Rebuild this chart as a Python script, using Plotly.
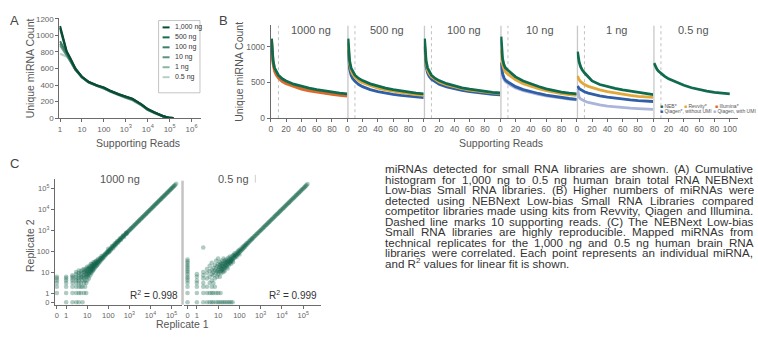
import numpy as np
import plotly.graph_objects as go

W, H = 758, 337
FONT = "Liberation Sans, Arial, sans-serif"

# ---------------- Panel A data ----------------
a_reads = [1, 2, 3, 5, 10, 20, 50, 100, 200, 500, 1000, 2000, 5000, 10000, 20000, 50000, 100000, 150000]
a_names = ["1,000 ng", "500 ng", "100 ng", "10 ng", "1 ng", "0.5 ng"]
a_1000 = [1115, 810, 720, 600, 500, 440, 395, 370, 330, 285, 262, 235, 170, 110, 70, 25, 3, 0]
a_500 = [1090, 800, 712, 596, 498, 438, 393, 368, 328, 283, 258, 232, 168, 108, 68, 24, 3, 0]
a_100 = [930, 780, 700, 590, 495, 436, 391, 365, 325, 280, 255, 228, 165, 105, 66, 23, 2, 0]
a_10 = [900, 770, 695, 588, 494, 435, 390, 363, 322, 277, 250, 224, 162, 103, 64, 22, 2, 0]
a_1 = [880, 765, 690, 585, 493, 434, 389, 362, 320, 274, 247, 220, 160, 101, 62, 21, 2, 0]
a_05 = [780, 745, 700, 605, 495, 432, 388, 360, 318, 270, 243, 216, 157, 99, 60, 20, 2, 0]
a_colors = ["#0a4a36", "#1b6b50", "#3d7f69", "#5e927f", "#8db3a5", "#b9cfc6"]

# ---------------- Panel B data ----------------
b_reads = [1, 2, 3, 5, 7, 10, 15, 20, 30, 40, 50, 60, 70, 80, 90, 100]
b_panels = ["1000 ng", "500 ng", "100 ng", "10 ng", "1 ng", "0.5 ng"]
b_kits = ["NEB*", "Revvity*", "Illumina*", "Qiagen*, without UMI", "Qiagen, with UMI"]
b_colors = {"NEB*": "#0f6b4e", "Revvity*": "#e3a83a", "Illumina*": "#dc6a2c",
            "Qiagen*, without UMI": "#2f5fa6", "Qiagen, with UMI": "#aab5da"}

b1000_neb = [1110, 900, 800, 700, 650, 600, 550, 520, 475, 445, 420, 398, 380, 365, 350, 340]
b1000_revvity = [1095, 880, 780, 675, 625, 580, 530, 500, 455, 425, 400, 380, 363, 348, 335, 325]
b1000_illumina = [1080, 860, 760, 655, 605, 560, 510, 480, 437, 405, 382, 362, 346, 332, 320, 310]

b500_neb = [1110, 900, 800, 700, 650, 600, 555, 525, 480, 447, 420, 398, 380, 364, 350, 340]
b500_revvity = [1050, 860, 760, 665, 615, 570, 525, 495, 452, 420, 395, 375, 358, 343, 330, 320]
b500_qiagen = [960, 780, 690, 600, 555, 515, 470, 440, 400, 372, 350, 332, 318, 306, 296, 288]

b100_neb = [1110, 900, 800, 700, 650, 600, 555, 525, 482, 450, 425, 405, 388, 374, 362, 352]
b100_revvity = [1060, 860, 765, 670, 622, 578, 535, 505, 465, 435, 412, 393, 378, 365, 354, 345]
b100_qiagen = [1000, 810, 720, 630, 585, 545, 505, 475, 437, 410, 388, 370, 356, 344, 334, 325]

b10_neb = [1140, 930, 830, 740, 700, 670, 620, 577, 520, 477, 442, 410, 385, 363, 350, 340]
b10_revvity = [960, 830, 750, 680, 645, 615, 570, 535, 483, 445, 413, 385, 363, 345, 330, 320]
b10_qiagen = [780, 680, 620, 560, 530, 505, 468, 440, 400, 370, 345, 323, 305, 290, 275, 262]
b10_qiagen_umi = [740, 650, 595, 540, 510, 485, 450, 422, 385, 357, 333, 312, 295, 280, 267, 255]

b1_neb = [930, 850, 790, 720, 675, 635, 570, 520, 470, 440, 415, 395, 377, 360, 345, 330]
b1_revvity = [590, 560, 540, 510, 490, 470, 445, 425, 395, 370, 350, 333, 318, 305, 296, 290]
b1_qiagen = [450, 430, 415, 400, 385, 370, 350, 335, 312, 295, 280, 267, 256, 246, 239, 233]
b1_qiagen_umi = [410, 330, 295, 270, 255, 240, 220, 205, 185, 170, 158, 148, 140, 133, 127, 122]

b05_neb = [770, 740, 715, 680, 655, 625, 585, 550, 500, 460, 425, 398, 378, 362, 350, 340]

b_series = {
    "1000 ng": [("Revvity*", b1000_revvity), ("Illumina*", b1000_illumina), ("NEB*", b1000_neb)],
    "500 ng": [("Qiagen*, without UMI", b500_qiagen), ("Revvity*", b500_revvity), ("NEB*", b500_neb)],
    "100 ng": [("Qiagen*, without UMI", b100_qiagen), ("Revvity*", b100_revvity), ("NEB*", b100_neb)],
    "10 ng": [("Qiagen, with UMI", b10_qiagen_umi), ("Qiagen*, without UMI", b10_qiagen),
              ("Revvity*", b10_revvity), ("NEB*", b10_neb)],
    "1 ng": [("Qiagen, with UMI", b1_qiagen_umi), ("Qiagen*, without UMI", b1_qiagen),
             ("Revvity*", b1_revvity), ("NEB*", b1_neb)],
    "0.5 ng": [("NEB*", b05_neb)],
}

# ---------------- Panel C data (replicate 1, replicate 2 read counts) ----------------
c1000_pairs = [
    (0, 1), (0, 2), (0, 3), (0, 4), (0, 5), (0, 6),
    (1, 0), (1, 1), (1, 2), (1, 3), (1, 4), (1, 5), (1, 6),
    (2, 0), (2, 1), (2, 2), (2, 3), (2, 4), (2, 5), (2, 6), (2, 7),
    (3, 0), (3, 1), (3, 2), (3, 3), (3, 4), (3, 5), (3, 6), (3, 8), (3, 10),
    (4, 0), (4, 1), (4, 2), (4, 3), (4, 4), (4, 5), (4, 7), (4, 9), (4, 12),
    (5, 1), (5, 2), (5, 3), (5, 5), (5, 6), (5, 8), (5, 11),
    (6, 0), (6, 2), (6, 4), (6, 6), (6, 9), (6, 13),
    (7, 1), (7, 3), (7, 5), (7, 7), (7, 10), (7, 14),
    (8, 2), (8, 4), (8, 6), (8, 9), (8, 12),
    (9, 1), (9, 3), (9, 6), (9, 8), (9, 11), (9, 15),
    (10, 4), (10, 7), (10, 10), (10, 13), (10, 18), (11, 6), (11, 9), (11, 15),
    (12, 5), (12, 8), (12, 11), (12, 16), (13, 9), (13, 14), (13, 20),
    (14, 7), (14, 11), (14, 16), (15, 10), (15, 13), (15, 19), (15, 25),
    (16, 9), (16, 14), (17, 12), (17, 17), (17, 24), (18, 11), (18, 16), (18, 21),
    (19, 14), (19, 20), (20, 13), (20, 18), (20, 24), (20, 30), (22, 15), (22, 20), (22, 27),
    (24, 17), (24, 23), (24, 31), (26, 19), (26, 25), (26, 34), (28, 21), (28, 28),
    (30, 22), (30, 29), (30, 37), (33, 25), (33, 32), (33, 42), (36, 28), (36, 35),
    (40, 31), (40, 38), (40, 47), (44, 36), (44, 44), (48, 40), (48, 48), (48, 58),
    (53, 44), (53, 53), (58, 49), (58, 60), (64, 55), (64, 66), (70, 62), (70, 73),
    (77, 68), (77, 80), (85, 76), (85, 89), (93, 84), (93, 98),
    (100, 130), (110, 90), (130, 110), (150, 175), (170, 140), (200, 230), (220, 190),
    (260, 300), (300, 260), (350, 400), (400, 350), (500, 560), (550, 480), (700, 760), (750, 680),
    (100, 92), (105, 112), (112, 104), (120, 118), (128, 135), (135, 128), (145, 150), (155, 148),
    (165, 172), (178, 170), (190, 198), (205, 196), (220, 228), (235, 230), (250, 262), (270, 262),
    (290, 302), (310, 305), (335, 345), (360, 352), (385, 398), (415, 408), (445, 458), (480, 472),
    (515, 530), (555, 548), (600, 615), (645, 640), (700, 712), (750, 745), (810, 825), (870, 865),
    (940, 955), (1010, 1000), (1090, 1105), (1170, 1165), (1260, 1280), (1360, 1350), (1470, 1490),
    (1580, 1575), (1700, 1725), (1840, 1830), (1980, 2010), (2140, 2130), (2310, 2340), (2490, 2480),
    (2690, 2720), (2900, 2890), (3130, 3170), (3380, 3360), (3650, 3700), (3940, 3920), (4250, 4300),
    (4590, 4560), (4950, 5010), (5350, 5320), (5780, 5850), (6240, 6200), (6740, 6820), (7280, 7240),
    (7860, 7950), (8490, 8440), (9170, 9280), (9900, 9850), (10700, 10820), (11550, 11480),
    (12480, 12620), (13470, 13400), (14550, 14720), (15700, 15600), (16960, 17150), (18300, 18200),
    (19780, 20000), (21350, 21200), (23060, 23300), (24900, 24750), (26890, 27200), (29040, 28850),
    (31360, 31700), (33870, 33650), (36580, 37000), (39500, 39250), (42660, 43100), (46070, 45800),
    (49760, 50300), (53740, 53400), (58040, 58700), (62680, 62300), (67690, 68400), (73110, 72600),
    (78960, 79800), (85270, 84700), (92100, 93000), (99460, 98800), (107400, 108500), (116000, 115200),
    (125300, 126600), (135300, 134400), (146100, 147600), (165000, 168000),
]
c05_pairs = [
    (0, 0), (0, 1), (0, 2), (0, 3), (0, 4), (0, 5), (0, 6), (0, 8), (0, 10), (0, 12), (0, 15),
    (0, 18), (0, 22), (0, 27), (0, 33), (0, 40),
    (1, 0), (2, 0), (3, 0), (4, 0), (5, 0), (6, 0), (8, 0), (10, 0), (12, 0), (15, 0), (18, 0),
    (22, 0), (27, 0), (33, 0), (40, 0), (48, 0),
    (1, 1), (2, 1), (3, 1), (4, 1), (5, 1), (6, 1), (8, 1), (10, 1), (13, 1),
    (1, 2), (2, 2), (3, 2), (5, 2), (7, 2), (1, 3), (2, 3), (4, 3), (6, 3),
    (1, 4), (1, 6), (1, 8), (2, 5), (2, 7), (2, 10), (2, 150),
    (3, 5), (3, 9), (3, 14), (4, 6), (4, 11), (4, 20), (5, 4), (5, 8), (5, 13), (5, 28),
    (6, 7), (6, 16), (6, 10), (7, 5), (7, 12), (7, 22), (8, 9), (8, 15), (8, 35),
    (9, 6), (9, 11), (9, 19), (10, 8), (10, 13), (10, 24), (10, 45), (11, 10), (11, 17),
    (12, 6), (12, 14), (12, 22), (12, 30), (13, 11), (13, 18), (14, 9), (14, 15), (14, 26),
    (15, 12), (15, 20), (15, 35), (16, 14), (16, 24), (17, 10), (17, 19), (18, 16), (18, 28),
    (18, 45), (19, 13), (20, 18), (20, 25), (20, 11), (20, 36), (22, 16), (22, 22), (22, 30),
    (24, 20), (24, 28), (24, 40), (26, 18), (26, 32), (28, 24), (28, 36), (28, 15), (30, 26),
    (30, 33), (30, 48), (32, 22), (34, 30), (34, 42), (36, 28), (36, 55), (38, 35), (40, 32),
    (40, 45), (40, 25), (42, 38), (45, 40), (45, 55), (48, 36), (50, 45), (50, 62), (50, 30),
    (55, 50), (55, 68), (60, 48), (60, 60), (60, 80), (65, 58), (70, 62), (70, 78), (75, 55),
    (80, 72), (80, 95), (85, 80), (90, 78), (90, 105), (100, 90), (100, 115), (100, 70),
    (110, 100), (115, 130), (120, 105), (130, 125), (140, 120), (140, 160), (150, 140),
    (160, 175), (170, 150), (180, 190), (190, 170), (200, 200), (210, 230), (230, 210),
    (240, 255), (260, 240), (280, 300), (300, 285), (320, 340), (350, 330), (380, 400), (400, 380),
    (430, 440), (470, 460), (510, 525), (560, 550), (610, 625), (660, 650), (720, 735), (790, 775),
    (860, 880), (940, 925), (1020, 1040), (1110, 1095), (1210, 1230), (1320, 1300), (1440, 1465),
    (1570, 1550), (1710, 1740), (1870, 1850), (2040, 2070), (2220, 2200), (2420, 2460), (2640, 2610),
    (2880, 2920), (3140, 3110), (3420, 3470), (3730, 3700), (4070, 4120), (4440, 4400), (4840, 4900),
    (5280, 5230), (5760, 5830), (6280, 6220), (6850, 6930), (7470, 7400), (8150, 8240), (8890, 8810),
    (9700, 9800), (10580, 10480), (11540, 11660), (12590, 12470), (13730, 13870), (14980, 14840),
    (16340, 16500), (17820, 17650), (19440, 19630), (21200, 21000), (23130, 23350), (25230, 24990),
    (27520, 27780), (30020, 29730), (32740, 33050), (35710, 35380), (38950, 39320), (42490, 42080),
    (46350, 46800), (50560, 50070), (55150, 55680), (60150, 59570), (65620, 66240), (71580, 70890),
    (78080, 78820), (85170, 84350), (92900, 93800), (101300, 100300), (110500, 111600),
    (120600, 119400), (131500, 132800), (143400, 142000), (160000, 165000),
]
c1000_rep1 = [p[0] for p in c1000_pairs]
c1000_rep2 = [p[1] for p in c1000_pairs]
c05_rep1 = [p[0] for p in c05_pairs]
c05_rep2 = [p[1] for p in c05_pairs]
c_r2 = ["0.998", "0.999"]
c_titles = ["1000 ng", "0.5 ng"]

caption = [
    "miRNAs detected for small RNA libraries are shown. (A) Cumulative",
    "histogram for 1,000 ng to 0.5 ng human brain total RNA NEBNext",
    "Low-bias Small RNA libraries. (B) Higher numbers of miRNAs were",
    "detected using NEBNext Low-bias Small RNA Libraries compared",
    "competitor libraries made using kits from Revvity, Qiagen and Illumina.",
    "Dashed line marks 10 supporting reads. (C) The NEBNext Low-bias",
    "Small RNA libraries are highly reproducible. Mapped miRNAs from",
    "technical replicates for the 1,000 ng and 0.5 ng human brain RNA",
    "libraries were correlated. Each point represents an individual miRNA,",
    "and R<sup>2</sup> values for linear fit is shown.",
]

# ---------------- helpers ----------------
def X(p):
    return p / W

def Y(p):
    return 1 - p / H

def xd(a, b):
    return [a / W, b / W]

def yd(top, bottom):
    return [1 - bottom / H, 1 - top / H]

ZERO_POS = -0.44

def ctrans(v):
    v = np.asarray(v, dtype=float)
    return np.where(v > 0, np.log10(np.maximum(v, 1)), ZERO_POS)

AXC = "#6b6b6b"
TICKC = "#666666"
base_axis = dict(showgrid=False, zeroline=False, showline=True, linecolor=AXC, linewidth=1,
                 ticks="outside", ticklen=3, tickcolor=AXC, tickwidth=1,
                 tickfont=dict(family=FONT, size=8, color=TICKC))

fig = go.Figure()
shapes = []
ann = []

# ---------------- Panel A ----------------
a_all = [a_1000, a_500, a_100, a_10, a_1, a_05]
for name, vals, col in reversed(list(zip(a_names, a_all, a_colors))):
    fig.add_trace(go.Scatter(x=a_reads, y=vals, mode="lines", line=dict(color=col, width=2.2),
                             xaxis="x", yaxis="y", showlegend=False, name=name))

sup = {1: "1", 10: "10", 100: "100", 1e3: "10<sup>3</sup>", 1e4: "10<sup>4</sup>",
       1e5: "10<sup>5</sup>", 1e6: "10<sup>6</sup>"}
layout = dict(
    xaxis=dict(base_axis, domain=xd(57.5, 200), type="log", range=[-0.03, 6.45], anchor="y",
               tickvals=list(sup.keys()), ticktext=list(sup.values())),
    yaxis=dict(base_axis, domain=yd(15, 118), range=[0, 1215], anchor="x",
               tickvals=[0, 200, 400, 600, 800, 1000, 1200]),
)
# legend box for A
shapes.append(dict(type="rect", xref="paper", yref="paper", x0=X(157), x1=X(198.5), y0=Y(92), y1=Y(18),
                   line=dict(color="#b5b5b5", width=0.8), fillcolor="white", layer="above"))
for i, (name, col) in enumerate(zip(a_names, a_colors)):
    yy = 25 + 10.2 * i
    shapes.append(dict(type="line", xref="paper", yref="paper", x0=X(161), x1=X(168), y0=Y(yy), y1=Y(yy),
                       line=dict(color=col, width=2), layer="above"))
    ann.append(dict(text=name, x=X(171), y=Y(yy), xref="paper", yref="paper", xanchor="left",
                    yanchor="middle", showarrow=False, font=dict(family=FONT, size=7, color="#333")))

# ---------------- Panel B ----------------
b_left = 269.5
b_w = 76.7
for k, pn in enumerate(b_panels):
    xa = "x%d" % (k + 2)
    for kit, vals in b_series[pn]:
        fig.add_trace(go.Scatter(x=b_reads, y=vals, mode="lines",
                                 line=dict(color=b_colors[kit], width=2.8),
                                 xaxis=xa, yaxis="y2", showlegend=False, name=kit))
    x0 = b_left + b_w * k
    last = k == len(b_panels) - 1
    x1 = 738 if last else x0 + b_w
    rng_max = (x1 - x0) / b_w * 100
    layout["xaxis%d" % (k + 2)] = dict(base_axis, domain=xd(x0, x1), range=[0, rng_max], anchor="y2",
                                       tickvals=[0, 20, 40, 60, 80, 100] if last else [0, 20, 40, 60, 80],
                                       tickfont=dict(family=FONT, size=8.5, color=TICKC))
    # dotted 10 read marker
    shapes.append(dict(type="line", xref=xa, yref="y2", x0=10, x1=10, y0=0, y1=1295,
                       line=dict(color="#c0c0c0", width=1, dash="dot"), layer="below"))
    if k > 0:
        shapes.append(dict(type="line", xref=xa, yref="y2", x0=0.4, x1=0.4, y0=0, y1=1295,
                           line=dict(color="#c8c8c8", width=2), layer="below"))
    ann.append(dict(text=pn, x=X(x0 + 40), y=Y(28), xref="paper", yref="paper", xanchor="center",
                    yanchor="middle", showarrow=False, font=dict(family=FONT, size=11, color="#555")))
layout["yaxis2"] = dict(base_axis, domain=yd(23, 118), range=[0, 1295], anchor="x2",
                        tickvals=[0, 500, 1000], tickfont=dict(family=FONT, size=8.5, color=TICKC))

# legend for B
b_leg = [("NEB*", 659, 105), ("Revvity*", 683, 105), ("Illumina*", 714, 105),
         ("Qiagen*, without UMI", 659, 111), ("Qiagen, with UMI", 712, 111)]
for kit, lx, ly in b_leg:
    ann.append(dict(text='<span style="color:%s">■</span> %s' % (b_colors[kit], kit), x=X(lx), y=Y(ly),
                    xref="paper", yref="paper", xanchor="left", yanchor="middle", showarrow=False,
                    borderpad=0, font=dict(family=FONT, size=5, color="#555")))

# ---------------- Panel C ----------------
ctick_vals = [ZERO_POS, 0, 1, 2, 3, 4, 5]
ctick_text = ["0", "1", "10", "100", "10<sup>3</sup>", "10<sup>4</sup>", "10<sup>5</sup>"]
mk = dict(color="rgba(14,96,72,0.33)", size=4.6, line=dict(width=0))
fig.add_trace(go.Scatter(x=ctrans(c1000_rep1), y=ctrans(c1000_rep2), mode="markers", marker=mk,
                         xaxis="x8", yaxis="y8", showlegend=False))
fig.add_trace(go.Scatter(x=ctrans(c05_rep1), y=ctrans(c05_rep2), mode="markers", marker=mk,
                         xaxis="x9", yaxis="y8", showlegend=False))
cfont = dict(family=FONT, size=7.5, color=TICKC)
# left: 0 at px 55, 1e5 at 170
sL = (170 - 55) / (5 - ZERO_POS)
l0 = ZERO_POS - (55 - 53) / sL
layout["xaxis8"] = dict(base_axis, domain=xd(53, 180), range=[l0, l0 + (180 - 53) / sL], anchor="y8",
                        tickvals=ctick_vals, ticktext=ctick_text, tickfont=cfont)
sR = (302 - 186) / (5 - ZERO_POS)
r0 = ZERO_POS - (186 - 182) / sR
layout["xaxis9"] = dict(base_axis, domain=xd(182, 320), range=[r0, r0 + (320 - 182) / sR], anchor="y8",
                        tickvals=ctick_vals, ticktext=ctick_text, tickfont=cfont)
sY = (306.5 - 190) / (5 - ZERO_POS)
yb = ZERO_POS - (309 - 306.5) / sY
layout["yaxis8"] = dict(base_axis, domain=yd(180, 309), range=[yb, yb + (309 - 180) / sY], anchor="x8",
                        tickvals=ctick_vals, ticktext=ctick_text, tickfont=cfont)
shapes.append(dict(type="line", xref="paper", yref="paper", x0=X(181), x1=X(181), y0=Y(309), y1=Y(182),
                   line=dict(color="#c4c4c4", width=2.5)))
shapes.append(dict(type="line", xref="paper", yref="paper", x0=X(254), x1=X(254), y0=Y(176), y1=Y(184),
                   line=dict(color="#cfcfcf", width=1)))
ann.append(dict(text="R<sup>2</sup> = " + c_r2[0], x=X(178), y=Y(299), xref="paper", yref="paper",
                xanchor="right", yanchor="middle", showarrow=False, font=dict(family=FONT, size=10, color="#333")))
ann.append(dict(text="R<sup>2</sup> = " + c_r2[1], x=X(318), y=Y(299), xref="paper", yref="paper",
                xanchor="right", yanchor="middle", showarrow=False, font=dict(family=FONT, size=10, color="#333")))
ann.append(dict(text=c_titles[0], x=X(118), y=Y(180), xref="paper", yref="paper", xanchor="center",
                yanchor="middle", showarrow=False, font=dict(family=FONT, size=11, color="#555")))
ann.append(dict(text=c_titles[1], x=X(232), y=Y(180), xref="paper", yref="paper", xanchor="center",
                yanchor="middle", showarrow=False, font=dict(family=FONT, size=11, color="#555")))

# ---------------- titles / labels ----------------
def label(text, x, y, size, color="#555", angle=0):
    ann.append(dict(text=text, x=X(x), y=Y(y), xref="paper", yref="paper", xanchor="center",
                    yanchor="middle", showarrow=False, textangle=angle,
                    font=dict(family=FONT, size=size, color=color)))

label("A", 13, 18, 13, "#444")
label("B", 222, 18, 13, "#444")
label("C", 13, 164, 13, "#444")
label("Unique miRNA Count", 28, 67, 10.5, angle=-90)
label("Supporting Reads", 136, 143, 10.5)
label("Unique miRNA Count", 238, 70, 10.5, angle=-90)
label("Supporting Reads", 500, 143, 10.5)
label("Replicate 2", 28, 248, 10.5, angle=-90)
label("Replicate 1", 181, 329, 10.5)

# ---------------- caption (justified) ----------------
AW = {' ': 278, '(': 333, ')': 333, ',': 278, '-': 333, '.': 278, '*': 389,
      'A': 667, 'B': 667, 'C': 722, 'D': 722, 'E': 667, 'F': 611, 'G': 778, 'H': 722, 'I': 278,
      'J': 500, 'K': 667, 'L': 556, 'M': 833, 'N': 722, 'O': 778, 'P': 667, 'Q': 778, 'R': 722,
      'S': 667, 'T': 611, 'U': 722, 'V': 667, 'W': 944, 'X': 667, 'Y': 667, 'Z': 611,
      'a': 556, 'b': 556, 'c': 500, 'd': 556, 'e': 556, 'f': 278, 'g': 556, 'h': 556, 'i': 222,
      'j': 222, 'k': 500, 'l': 222, 'm': 833, 'n': 556, 'o': 556, 'p': 556, 'q': 556, 'r': 333,
      's': 500, 't': 278, 'u': 556, 'v': 500, 'w': 722, 'x': 500, 'y': 500, 'z': 500}
CAP_FS = 11.6
CAP_X0, CAP_X1 = 383, 752
def tw(s):
    return sum(AW.get(c, 556) for c in s) / 1000 * CAP_FS

for i, line in enumerate(caption):
    yy = 170 + 10.75 * i
    cf = dict(family=FONT, size=CAP_FS, color="#333")
    if i == len(caption) - 1:
        ann.append(dict(text=line, x=X(CAP_X0), y=Y(yy), xref="paper", yref="paper", xanchor="left",
                        yanchor="middle", showarrow=False, borderpad=0, font=cf))
        continue
    words = line.split(" ")
    total = sum(tw(w) for w in words)
    gap = (CAP_X1 - CAP_X0 - total) / (len(words) - 1)
    xx = CAP_X0
    for w in words:
        ann.append(dict(text=w, x=X(xx), y=Y(yy), xref="paper", yref="paper", xanchor="left",
                        yanchor="middle", showarrow=False, borderpad=0, font=cf))
        xx += tw(w) + gap

fig.update_layout(width=W, height=H, margin=dict(l=0, r=0, t=0, b=0), paper_bgcolor="white",
                  plot_bgcolor="rgba(0,0,0,0)", showlegend=False, shapes=shapes, annotations=ann,
                  font=dict(family=FONT), **layout)
fig.write_html("out.html", config={"displayModeBar": False, "staticPlot": True},
               post_script="document.body.style.margin='0px';document.body.style.overflow='hidden';")
